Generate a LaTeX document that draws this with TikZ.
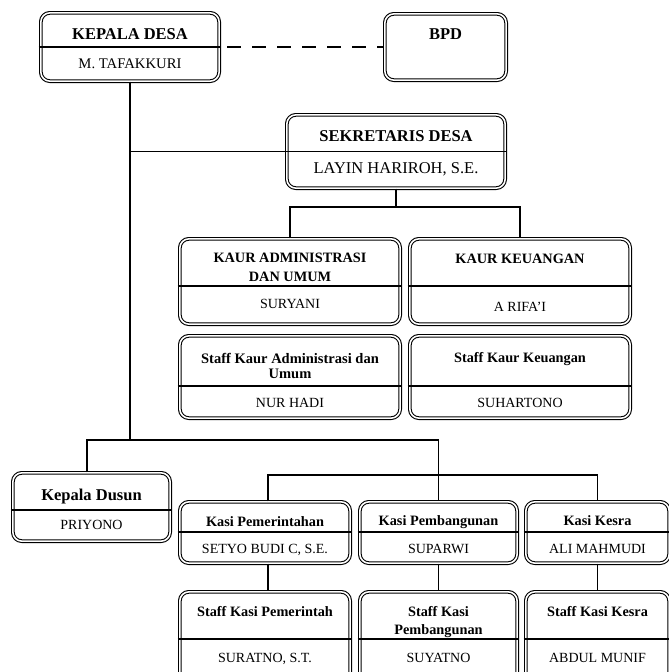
\documentclass[tikz,border=0pt]{standalone}
\usepackage{fontspec}
\setmainfont{Liberation Serif}
\newcommand\twol[2]{\begin{tabular}[t]{@{}c@{}}#1\\#2\end{tabular}}
\tikzset{
  orgbox/.style={draw, double, double distance=1.6pt, line width=1.05pt, rounded corners=9pt, inner sep=0pt, rectangle},
  conn/.style={line width=1.6pt},
  divline/.style={line width=1.3pt, shorten <=-1.8pt, shorten >=-1.8pt},
  bigb/.style={font=\fontsize{16.5}{19}\selectfont\bfseries, anchor=base, inner sep=0pt},
  medb/.style={font=\fontsize{14.3}{16}\selectfont\bfseries, anchor=base, inner sep=0pt},
  nm/.style={font=\fontsize{14}{16}\selectfont, anchor=base, inner sep=0pt},
}
\newcommand\obox[5]{%
  \node[orgbox, minimum width={(#4-#2-3.7)*1pt}, minimum height={(#5-#3-3.7)*1pt}]
    (#1) at ({(#2+#4)/2},{(#3+#5)/2}) {};}
\newcommand\divl[2]{\draw[divline] (#1.west |- 0,#2) -- (#1.east |- 0,#2);}
\begin{document}
\begin{tikzpicture}[x=1pt, y=-1pt]
\useasboundingbox (0,0) rectangle (669,672);
\clip (0,0) rectangle (669,672);

% boxes
\obox{kd}{39}{11}{221}{83}
\obox{bpd}{383}{12}{508}{82}
\obox{sek}{285}{113}{507}{190}
\obox{kadm}{178}{237}{402}{326}
\obox{kkeu}{408}{237}{632}{326}
\obox{sadm}{178}{334}{402}{420}
\obox{skeu}{408}{334}{632}{420}
\obox{kdus}{11}{471}{172}{543}
\obox{kpem}{178}{500}{352}{565}
\obox{kpbg}{358}{500}{519}{565}
\obox{kkes}{524}{500}{671}{565}
\obox{spem}{178}{590}{352}{685}
\obox{spbg}{358}{590}{519}{685}
\obox{skes}{524}{590}{671}{685}

% dividers
\divl{kd}{47}
\divl{sek}{151.5}
\divl{kadm}{286}
\divl{kkeu}{286}
\divl{sadm}{386}
\divl{skeu}{386}
\divl{kdus}{510}
\divl{kpem}{532}
\divl{kpbg}{532}
\divl{kkes}{532}
\divl{spem}{639}
\divl{spbg}{639}
\divl{skes}{639}

% connectors
\draw[line width=2.2pt, dash pattern=on 14pt off 11pt, shorten <=7.8pt] (kd.east) -- (bpd.west);
\coordinate (tbot) at (130,440);
\draw[conn] (kd.south) -- (tbot);
\draw[conn] (kd.south |- sek.west) -- (sek.west);
\coordinate (sbar) at (396,207);
\draw[conn] (sek.south) -- (sbar);
\draw[conn] (kadm.north) |- (sbar) -| (kkeu.north);
\draw[conn] ([xshift=-4.5pt]kdus.north) |- (tbot) -| (kpbg.north);
\coordinate (kbar) at (438.5,475);
\draw[conn] ([xshift=3pt]kpem.north) |- (kbar) -| (kkes.north);
\draw[conn] ([xshift=3pt]kpem.south) -- ([xshift=3pt]spem.north);
\draw[conn] (kpbg.south) -- (spbg.north);
\draw[conn] (kkes.south) -- (skes.north);

% texts
\node[bigb] (tkd1) at (130,39) {KEPALA DESA};
\node[nm, font=\fontsize{14.7}{16}\selectfont] (tkd2) at (130,68) {M. TAFAKKURI};
\node[bigb] (tbpd) at (445.5,39) {BPD};
\node[bigb] (tsek1) at (396,141) {SEKRETARIS DESA};
\node[nm, font=\fontsize{16.5}{19}\selectfont] (tsek2) at (396,173) {LAYIN HARIROH, S.E.};
\node[medb, font=\fontsize{14.3}{19}\selectfont\bfseries] (tkadm1) at (290,262) {\twol{KAUR ADMINISTRASI}{DAN UMUM}};
\node[nm] (tkadm2) at (290,308) {SURYANI};
\node[medb] (tkkeu1) at (520,263) {KAUR KEUANGAN};
\node[nm] (tkkeu2) at (520,311) {A RIFA’I};
\node[medb, font=\fontsize{14.5}{15.5}\selectfont\bfseries] (tsadm1) at (290,363) {\twol{Staff Kaur Administrasi dan}{Umum}};
\node[nm] (tsadm2) at (290,407) {NUR HADI};
\node[medb] (tskeu1) at (520,362) {Staff Kaur Keuangan};
\node[nm] (tskeu2) at (520,407) {SUHARTONO};
\node[bigb] (tkdus1) at (91.5,500) {Kepala Dusun};
\node[nm] (tkdus2) at (91.5,529) {PRIYONO};
\node[medb] (tkpem1) at (265,526) {Kasi Pemerintahan};
\node[nm] (tkpem2) at (265,553) {SETYO BUDI C, S.E.};
\node[medb] (tkpbg1) at (438.5,525) {Kasi Pembangunan};
\node[nm] (tkpbg2) at (438.5,553) {SUPARWI};
\node[medb] (tkkes1) at (597.5,525) {Kasi Kesra};
\node[nm] (tkkes2) at (597.5,553) {ALI MAHMUDI};
\node[medb] (tspem1) at (265,616) {Staff Kasi Pemerintah};
\node[nm] (tspem2) at (265,662) {SURATNO, S.T.};
\node[medb, font=\fontsize{14.3}{18}\selectfont\bfseries] (tspbg1) at (438.5,616) {\twol{Staff Kasi}{Pembangunan}};
\node[nm] (tspbg2) at (438.5,662) {SUYATNO};
\node[medb] (tskes1) at (597.5,616) {Staff Kasi Kesra};
\node[nm] (tskes2) at (597.5,662) {ABDUL MUNIF};
\end{tikzpicture}
\end{document}
